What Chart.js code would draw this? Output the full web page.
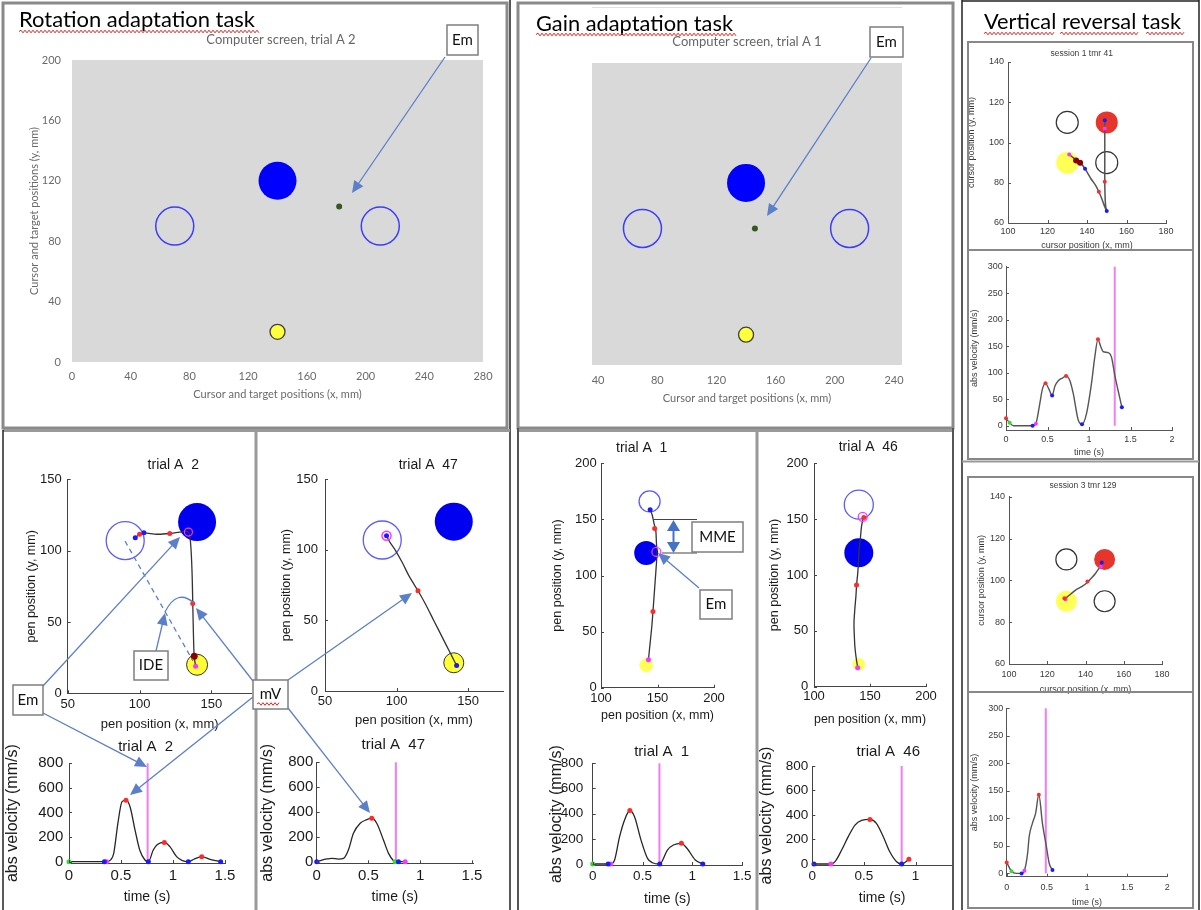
<!DOCTYPE html>
<html>
<head>
<meta charset="utf-8">
<script src="https://cdn.jsdelivr.net/npm/chart.js@4.4.1/dist/chart.umd.min.js"></script>
<style>
  html, body { margin: 0; padding: 0; background: #fff; }
  #page { position: relative; width: 1201px; height: 910px; overflow: hidden; background: #fff; }
  #page canvas { position: absolute; z-index: 1; }
  #overlay { position: absolute; left: 0; top: 0; z-index: 2; pointer-events: none; }
</style>
</head>
<body>
<div id="page"><svg id="overlay" width="1201" height="910" xmlns="http://www.w3.org/2000/svg"></svg></div>
<script>
// ---------- tick values ----------
const screenXTicksRot = [0, 40, 80, 120, 160, 200, 240, 280];
const screenXTicksGain = [40, 80, 120, 160, 200, 240];
const screenYTicks = [0, 40, 80, 120, 160, 200];
const penXTicksRot = [50, 100, 150];
const penYTicksRot = [0, 50, 100, 150];
const penXTicksGain = [100, 150, 200];
const penYTicksGain = [0, 50, 100, 150, 200];
const cursorXTicks = [100, 120, 140, 160, 180];
const cursorYTicks = [60, 80, 100, 120, 140];
const speedTicks = [0, 200, 400, 600, 800];
const timeTicks = [0, 0.5, 1, 1.5];
const timeTicksShort = [0, 0.5, 1];
const reversalSpeedTicks = [0, 50, 100, 150, 200, 250, 300];
const reversalTimeTicks = [0, 0.5, 1, 1.5, 2];

// ---------- computer screen layouts (mm) ----------
const rotScreenOpenTargets = [[70, 90], [210, 90]];
const rotScreenShownTarget = [[140, 120]];
const rotScreenStart = [[140, 20]];
const rotScreenCursorEnd = [[182, 103]];
const gainScreenOpenTargets = [[70, 90], [210, 90]];
const gainScreenShownTarget = [[140, 120]];
const gainScreenStart = [[140, 20]];
const gainScreenCursorEnd = [[146, 90]];

// ---------- rotation, trial A 2: pen path ----------
const a2PenX = [139, 138, 137.5, 137, 136.5, 135.5, 134, 128, 121, 112, 103, 100, 97];
const a2PenY = [19, 26, 40, 63, 85, 105, 113, 113, 112, 111.5, 112.5, 111.5, 109];
const a2OpenTarget = [[90, 107]];
const a2ShownTarget = [[140, 120]];
const a2Start = [[140, 20]];
const a2PenRed = [[137, 63], [121, 112], [100, 111.5]];
const a2PenBlue = [[103, 112.5], [97, 109]];
const a2PenMagenta = [[139, 19]];
const a2PenDarkRed = [[138, 26]];
const a2EndRing = [[134, 113]];
// rotation, trial A 2: speed profile
const a2Time = [0, 0.1, 0.2, 0.34, 0.36, 0.40, 0.43, 0.47, 0.51, 0.548, 0.587, 0.635, 0.68, 0.73, 0.763, 0.81, 0.85, 0.917, 0.97, 1.035, 1.09, 1.147, 1.2, 1.276, 1.356, 1.458];
const a2Speed = [0, 0, 0, 0, 0, 15, 68, 312, 488, 500, 447, 257, 95, 14, 0, 95, 140, 157, 122, 41, 8, 0, 20, 41, 19, 0];
const a2SpeedRed = [[0.548, 500], [0.917, 157], [1.276, 41]];
const a2SpeedBlue = [[0.34, 0], [0.763, 0], [1.147, 0], [1.458, 0]];
const a2SpeedMagenta = [[0.36, 0]];
const a2SpeedGreen = [[0, 0]];
const a2MoveEnd = 0.756;

// ---------- rotation, trial A 47 ----------
const a47PenX = [142, 140, 138, 132, 126, 120, 115, 109, 104, 99, 95, 93];
const a47PenY = [18, 22, 26, 38, 50, 62, 71, 81, 91, 100, 106, 110];
const a47OpenTarget = [[90, 107]];
const a47ShownTarget = [[140, 120]];
const a47Start = [[140, 20]];
const a47PenRed = [[115, 71]];
const a47PenBlue = [[142, 18], [93, 110]];
const a47EndRing = [[93, 110]];
const a47Time = [0, 0.05, 0.1, 0.145, 0.21, 0.26, 0.306, 0.355, 0.42, 0.484, 0.532, 0.58, 0.645, 0.694, 0.742, 0.758, 0.79, 0.855];
const a47Speed = [0, 13, 22, 27, 21, 27, 94, 228, 309, 338, 350, 309, 174, 67, 8, 0, 0, 0];
const a47SpeedRed = [[0.532, 350]];
const a47SpeedBlue = [[0, 0], [0.79, 0]];
const a47SpeedGreen = [[0.758, 0]];
const a47SpeedMagenta = [[0.855, 0]];
const a47MoveEnd = 0.765;

// ---------- gain, trial A 1 ----------
const a1PenX = [142, 143.5, 145, 146, 147, 148, 149, 149.5, 149, 148.5, 147, 146, 145, 143.5];
const a1PenY = [25, 40, 55, 68, 82, 96, 110, 120, 130, 140, 146, 151, 155, 158];
const a1OpenTarget = [[143, 166]];
const a1ShownTarget = [[140, 120]];
const a1Start = [[140, 20]];
const a1PenRed = [[146, 68], [147.5, 142]];
const a1PenBlue = [[143.5, 158.5]];
const a1PenMagenta = [[142, 25]];
const a1EndRing = [[149, 121]];
const a1Time = [0, 0.155, 0.18, 0.22, 0.27, 0.32, 0.373, 0.42, 0.485, 0.55, 0.6, 0.673, 0.75, 0.81, 0.89, 0.946, 1.03, 1.105];
const a1Speed = [0, 0, 0, 32, 217, 350, 425, 376, 190, 45, 10, 0, 111, 151, 164, 125, 32, 0];
const a1SpeedRed = [[0.373, 425], [0.89, 164]];
const a1SpeedBlue = [[0.155, 0], [0.673, 0], [1.105, 0]];
const a1SpeedMagenta = [[0.18, 0]];
const a1SpeedGreen = [[0, 0]];
const a1MoveEnd = 0.67;

// ---------- gain, trial A 46 ----------
const a46PenX = [139, 137.5, 136.5, 136, 135.7, 136.5, 137.5, 138, 139, 139.6, 140.5, 141.5, 142.5, 144];
const a46PenY = [17, 27, 36, 46, 57, 70, 82, 91, 101, 110, 125, 134, 144, 151.6];
const a46OpenTarget = [[140, 163]];
const a46ShownTarget = [[140, 120]];
const a46Start = [[140, 20]];
const a46PenRed = [[138, 91], [144.5, 151.5]];
const a46PenMagenta = [[139, 17]];
const a46EndRing = [[143.5, 152]];
const a46Time = [0.016, 0.1, 0.18, 0.22, 0.284, 0.348, 0.413, 0.477, 0.558, 0.62, 0.687, 0.75, 0.816, 0.865, 0.935];
const a46Speed = [0, 0, 0, 19, 114, 223, 318, 356, 364, 332, 223, 100, 19, 0, 38];
const a46SpeedRed = [[0.558, 364], [0.935, 38]];
const a46SpeedBlue = [[0.016, 0], [0.865, 0]];
const a46SpeedMagenta = [[0.18, 0]];
const a46MoveEnd = 0.865;

// ---------- vertical reversal, session 1 tmr 41 ----------
const s1CursorX = [131, 133, 135, 137, 139, 142, 144.5, 146, 147.5, 148.6, 150, 149.5, 149.2, 149, 149, 149, 149, 149, 149];
const s1CursorY = [94, 92.5, 91, 89.5, 87, 82, 78.5, 75.5, 72, 69, 66, 68, 72, 80, 88, 95, 101, 107, 111];
const s1OpenTargets = [[130, 110], [150, 90]];
const s1GoalTarget = [[150, 110]];
const s1Start = [[130, 90]];
const s1CursorRed = [[146, 75.5], [149, 80.5]];
const s1CursorBlue = [[139, 87], [150, 66], [149, 111]];
const s1CursorMagenta = [[131, 94], [149, 107]];
const s1CursorDarkRed = [[134.5, 91], [136.5, 90]];
const s1Time = [0, 0.044, 0.09, 0.2, 0.32, 0.36, 0.40, 0.44, 0.476, 0.52, 0.556, 0.59, 0.63, 0.68, 0.724, 0.77, 0.81, 0.87, 0.916, 0.97, 1.03, 1.07, 1.108, 1.14, 1.17, 1.23, 1.27, 1.31, 1.35, 1.396];
const s1Speed = [14, 5.7, 0, 0, 0, 4, 35, 70, 80, 68, 57, 75, 85, 90, 94, 85, 61, 11, 3, 23, 80, 130, 163, 150, 140, 138, 130, 96, 67, 35];
const s1SpeedRed = [[0, 14], [0.476, 80], [0.724, 94], [1.108, 163]];
const s1SpeedBlue = [[0.32, 0], [0.556, 57], [0.916, 3], [1.396, 35]];
const s1SpeedGreen = [[0.044, 5.7]];
const s1SpeedMagenta = [[0.36, 4]];
const s1MoveEnd = 1.31;

// ---------- vertical reversal, session 3 tmr 129 ----------
const s3CursorX = [129, 131, 133, 135, 138, 141, 143, 145, 146.5, 148, 148.5];
const s3CursorY = [91, 92.5, 94, 95.5, 97, 99, 101, 103, 105, 107, 108.5];
const s3OpenTargets = [[130, 110], [150, 90]];
const s3GoalTarget = [[150, 110]];
const s3Start = [[130, 90]];
const s3CursorRed = [[129, 91.5], [141, 99.5]];
const s3CursorBlue = [[148.5, 108.5]];
const s3CursorMagenta = [[129.5, 91], [148, 106.5]];
const s3Time = [0, 0.06, 0.12, 0.185, 0.22, 0.26, 0.28, 0.32, 0.36, 0.40, 0.445, 0.495, 0.53, 0.57];
const s3Speed = [20, 4, 0, 0, 5, 36, 67, 91, 109, 143, 91, 48, 18, 6];
const s3SpeedRed = [[0, 20], [0.40, 143]];
const s3SpeedBlue = [[0.185, 0], [0.57, 6]];
const s3SpeedGreen = [[0.06, 4]];
const s3SpeedMagenta = [[0.22, 5]];
const s3MoveEnd = 0.487;

// ---------- helpers ----------
const OFFICE = 'Lato, "Open Sans", sans-serif';
const MATLAB = '"Liberation Sans", Arial, sans-serif';
const RED = '#ff2a2a', BLUE = '#1a1aff', MAGENTA = '#ff33ff', GREEN = '#33dd33', DARKRED = '#8b0000';
const pairs = a => a.map(([x, y]) => ({ x, y }));
const zip = (xs, ys) => xs.map((x, i) => ({ x, y: ys[i] }));

function dots(a, color, r) {
  return { data: pairs(a), showLine: false, pointRadius: r, pointBackgroundColor: color,
           pointBorderColor: color, pointBorderWidth: 0, order: 0, clip: false };
}
function disc(a, fill, r, stroke, sw) {
  return { data: pairs(a), showLine: false, pointRadius: r, pointBackgroundColor: fill,
           pointBorderColor: stroke || fill, pointBorderWidth: sw || 0, order: 3, clip: false };
}
function ring(a, color, r, sw, order) {
  const d = disc(a, 'rgba(0,0,0,0)', r, color, sw);
  if (order !== undefined) d.order = order;
  return d;
}
function trace(data, color, w, extra) {
  return Object.assign({ data, showLine: true, borderColor: color, borderWidth: w, pointRadius: 0,
                         fill: false, tension: 0.3, order: 1, clip: false }, extra || {});
}
function marker(t, top) {
  return trace([{ x: t, y: 0 }, { x: t, y: top }], '#f27cf2', 2, { tension: 0, order: 2 });
}

const page = document.getElementById('page');

function makeChart(spec) {
  const L = Math.floor(spec.box.L), T = Math.floor(spec.box.T);
  const R = Math.ceil(spec.box.R), B = Math.ceil(spec.box.B);
  const p = spec.plot;
  const cv = document.createElement('canvas');
  cv.width = R - L; cv.height = B - T;
  cv.style.left = L + 'px'; cv.style.top = T + 'px';
  cv.style.width = (R - L) + 'px'; cv.style.height = (B - T) + 'px';
  page.appendChild(cv);

  const axis = (key, a) => ({
    type: 'linear', display: a.display !== false, min: a.min, max: a.max, bounds: 'data',
    afterBuildTicks: s => { s.ticks = a.ticks.map(v => ({ value: v })); },
    afterFit: s => { if (key === 'x') s.height = B - p.b; else s.width = p.l - L; },
    grid: { display: true, drawOnChartArea: false, drawTicks: false },
    border: { display: !!spec.axisLine, color: spec.axisColor || '#333', width: 1 },
    ticks: { padding: a.pad, color: spec.tickColor, autoSkip: false, maxRotation: 0, minRotation: 0,
             font: { family: spec.family, size: spec.tickSize }, callback: v => String(v) },
    title: { display: !!a.title, text: a.title || '', color: spec.labelColor, padding: 0,
             font: { family: spec.family, size: key === 'x' ? spec.xLabelSize : spec.yLabelSize } }
  });

  const decor = {
    id: 'decor',
    beforeDraw(chart) {
      if (!spec.plotBg) return;
      const a = chart.chartArea, ctx = chart.ctx;
      ctx.save(); ctx.fillStyle = spec.plotBg;
      ctx.fillRect(a.left, a.top, a.right - a.left, a.bottom - a.top); ctx.restore();
    },
    afterDraw(chart) {
      const ctx = chart.ctx, a = chart.chartArea;
      if (spec.inwardTicks) {
        ctx.save(); ctx.strokeStyle = spec.axisColor || '#333'; ctx.lineWidth = 1;
        const xs = chart.scales.x, ys = chart.scales.y;
        spec.x.ticks.forEach(v => { const px = Math.round(xs.getPixelForValue(v)) + 0.5;
          ctx.beginPath(); ctx.moveTo(px, a.bottom); ctx.lineTo(px, a.bottom - 3); ctx.stroke(); });
        spec.y.ticks.forEach(v => { const py = Math.round(ys.getPixelForValue(v)) + 0.5;
          ctx.beginPath(); ctx.moveTo(a.left, py); ctx.lineTo(a.left + 3, py); ctx.stroke(); });
        ctx.restore();
      }
      if (spec.title) {
        ctx.save(); ctx.fillStyle = spec.title.color || spec.labelColor;
        ctx.font = spec.title.size + 'px ' + spec.family;
        ctx.textAlign = 'center'; ctx.textBaseline = 'middle';
        ctx.fillText(spec.title.text, spec.title.x - L, spec.title.y - T);
        ctx.restore();
      }
    }
  };

  return new Chart(cv, {
    type: 'scatter',
    data: { datasets: spec.datasets },
    options: {
      responsive: false, animation: false, devicePixelRatio: 1, events: [],
      layout: { autoPadding: false, padding: { left: 0, top: p.t - T, right: R - p.r, bottom: 0 } },
      plugins: { legend: { display: false }, tooltip: { enabled: false }, title: { display: false } },
      scales: { x: axis('x', spec.x), y: axis('y', spec.y) }
    },
    plugins: [decor]
  });
}

// ---------- chart styles ----------
const excelStyle = { family: OFFICE, tickSize: 11, xLabelSize: 11, yLabelSize: 11,
  tickColor: '#6a6a6a', labelColor: '#6a6a6a', plotBg: '#d9d9d9', axisLine: false };
const penStyle = { family: MATLAB, tickSize: 13, xLabelSize: 13, yLabelSize: 12.5,
  tickColor: '#1a1a1a', labelColor: '#1a1a1a', axisLine: true, axisColor: '#444', inwardTicks: true };
const speedStyle = { family: MATLAB, tickSize: 15, xLabelSize: 14, yLabelSize: 16,
  tickColor: '#1a1a1a', labelColor: '#1a1a1a', axisLine: true, axisColor: '#444', inwardTicks: true };
const speedStyleGain = Object.assign({}, speedStyle, { tickSize: 13.5 });
const smallStyle = { family: MATLAB, tickSize: 9, xLabelSize: 9, yLabelSize: 9,
  tickColor: '#3a3a3a', labelColor: '#3a3a3a', axisLine: true, axisColor: '#555', inwardTicks: true };

// ---------- computer screen: rotation ----------
makeChart(Object.assign({}, excelStyle, {
  plot: { l: 72, t: 60, r: 485, b: 362 }, box: { L: 28, T: 28, R: 500, B: 401 },
  x: { min: 0, max: 280, ticks: screenXTicksRot, pad: 7.4, title: 'Cursor and target positions (x, mm)' },
  y: { min: 0, max: 200, ticks: screenYTicks, pad: 11, title: 'Cursor and target positions (y, mm)' },
  title: { text: 'Computer screen, trial A 2', x: 281, y: 40, size: 13, color: '#666' },
  datasets: [
    dots(rotScreenCursorEnd, '#375623', 3),
    ring(rotScreenOpenTargets, '#3c3cff', 19, 1.5),
    disc(rotScreenShownTarget, '#0000ff', 19),
    disc(rotScreenStart, '#ffff3c', 7.5, '#404040', 1.3)
  ]
}));

// ---------- computer screen: gain ----------
makeChart(Object.assign({}, excelStyle, {
  plot: { l: 592, t: 63, r: 902, b: 365 }, box: { L: 580, T: 30, R: 945, B: 405 },
  x: { min: 35.9, max: 245.4, ticks: screenXTicksGain, pad: 8.4, title: 'Cursor and target positions (x, mm)' },
  y: { min: 0, max: 199, ticks: screenYTicks, pad: 8, display: false },
  title: { text: 'Computer screen, trial A 1', x: 747, y: 42, size: 13, color: '#666' },
  datasets: [
    dots(gainScreenCursorEnd, '#375623', 3),
    ring(gainScreenOpenTargets, '#3c3cff', 19, 1.5),
    disc(gainScreenShownTarget, '#0000ff', 19),
    disc(gainScreenStart, '#ffff3c', 7.5, '#404040', 1.3)
  ]
}));

// ---------- rotation, trial A 2 ----------
makeChart(Object.assign({}, penStyle, {
  plot: { l: 67.7, t: 479.3, r: 251.7, b: 693.3 }, box: { L: 24.2, T: 452, R: 255, B: 731.1 },
  x: { min: 50, max: 178, ticks: penXTicksRot, pad: 2.9, title: 'pen position (x, mm)' },
  y: { min: 0, max: 150, ticks: penYTicksRot, pad: 6, title: 'pen position (y, mm)' },
  title: { text: 'trial A  2', x: 173.3, y: 465, size: 14 },
  datasets: [
    dots(a2PenRed, RED, 2.5), dots(a2PenBlue, BLUE, 2.5), dots(a2PenMagenta, MAGENTA, 2.5),
    dots(a2PenDarkRed, DARKRED, 3.5), ring(a2EndRing, MAGENTA, 4, 1.2, 0),
    trace(zip(a2PenX, a2PenY), '#333', 1.3),
    ring(a2OpenTarget, '#5c5cff', 19, 1.3),
    disc(a2ShownTarget, '#0000f0', 19),
    disc(a2Start, '#ffff33', 10.5, '#333', 1)
  ]
}));
makeChart(Object.assign({}, speedStyle, {
  plot: { l: 69, t: 763.3, r: 225, b: 863 }, box: { L: 3.7, T: 733, R: 252, B: 905.1 },
  x: { min: 0, max: 1.5, ticks: timeTicks, pad: 4, title: 'time (s)' },
  y: { min: -10.6, max: 800, ticks: speedTicks, pad: 5.7, title: 'abs velocity (mm/s)' },
  title: { text: 'trial A  2', x: 145.7, y: 746.7, size: 15 },
  datasets: [
    dots(a2SpeedRed, RED, 2.5), dots(a2SpeedBlue, BLUE, 2.5),
    dots(a2SpeedMagenta, MAGENTA, 2.5), dots(a2SpeedGreen, GREEN, 2.5),
    trace(zip(a2Time, a2Speed), '#262626', 1.3, { cubicInterpolationMode: 'monotone' }),
    marker(a2MoveEnd, 800)
  ]
}));

// ---------- rotation, trial A 47 ----------
makeChart(Object.assign({}, penStyle, {
  plot: { l: 325, t: 479.3, r: 503, b: 691 }, box: { L: 279.2, T: 452, R: 512, B: 727.8 },
  x: { min: 50, max: 174.4, ticks: penXTicksRot, pad: 2.9, title: 'pen position (x, mm)' },
  y: { min: 0, max: 150, ticks: penYTicksRot, pad: 7, title: 'pen position (y, mm)' },
  title: { text: 'trial A  47', x: 428.3, y: 465, size: 14 },
  datasets: [
    dots(a47PenRed, RED, 2.5), dots(a47PenBlue, BLUE, 2.5), ring(a47EndRing, MAGENTA, 4.5, 1.5, 0),
    trace(zip(a47PenX, a47PenY), '#333', 1.3),
    ring(a47OpenTarget, '#5c5cff', 19, 1.3),
    disc(a47ShownTarget, '#0000f0', 19),
    disc(a47Start, '#ffff33', 10, '#333', 1)
  ]
}));
makeChart(Object.assign({}, speedStyle, {
  plot: { l: 316.7, t: 762.3, r: 473, b: 863.3 }, box: { L: 258.1, T: 732, R: 512, B: 905.1 },
  x: { min: 0, max: 1.51, ticks: timeTicks, pad: 4, title: 'time (s)' },
  y: { min: -13, max: 800, ticks: speedTicks, pad: 3.4, title: 'abs velocity (mm/s)' },
  title: { text: 'trial A  47', x: 393.3, y: 745, size: 15 },
  datasets: [
    dots(a47SpeedRed, RED, 2.5), dots(a47SpeedBlue, BLUE, 2.5),
    dots(a47SpeedGreen, GREEN, 2.5), dots(a47SpeedMagenta, MAGENTA, 2.5),
    trace(zip(a47Time, a47Speed), '#262626', 1.3, { cubicInterpolationMode: 'monotone' }),
    marker(a47MoveEnd, 800)
  ]
}));

// ---------- gain, trial A 1 ----------
makeChart(Object.assign({}, penStyle, {
  plot: { l: 601, t: 463.3, r: 714, b: 687.7 }, box: { L: 550.8, T: 436, R: 752, B: 722.8 },
  x: { min: 100, max: 200, ticks: penXTicksGain, pad: 2.8, title: 'pen position (x, mm)' },
  y: { min: 0, max: 200, ticks: penYTicksGain, pad: 4.3, title: 'pen position (y, mm)' },
  title: { text: 'trial A  1', x: 641.7, y: 448.3, size: 14 },
  datasets: [
    dots(a1PenRed, RED, 2.5), dots(a1PenBlue, BLUE, 2.5), dots(a1PenMagenta, MAGENTA, 2.5),
    ring(a1EndRing, MAGENTA, 4.5, 1.3, 0),
    trace(zip(a1PenX, a1PenY), '#333', 1.3),
    ring(a1OpenTarget, '#5c5cff', 10.5, 1.3),
    disc(a1ShownTarget, '#0000f0', 12),
    disc(a1Start, '#ffff55', 6.7)
  ]
}));
makeChart(Object.assign({}, speedStyleGain, {
  plot: { l: 592.7, t: 763.3, r: 744.3, b: 865 }, box: { L: 547.7, T: 736, R: 755, B: 907.7 },
  x: { min: 0, max: 1.5, ticks: timeTicks, pad: 3.5, title: 'time (s)' },
  y: { min: -8, max: 800, ticks: speedTicks, pad: 9.4, title: 'abs velocity (mm/s)' },
  title: { text: 'trial A  1', x: 661.7, y: 752.3, size: 15 },
  datasets: [
    dots(a1SpeedRed, RED, 2.5), dots(a1SpeedBlue, BLUE, 2.5),
    dots(a1SpeedMagenta, MAGENTA, 2.5), dots(a1SpeedGreen, GREEN, 2.5),
    trace(zip(a1Time, a1Speed), '#262626', 1.3, { cubicInterpolationMode: 'monotone' }),
    marker(a1MoveEnd, 800)
  ]
}));

// ---------- gain, trial A 46 ----------
makeChart(Object.assign({}, penStyle, {
  plot: { l: 814, t: 463.3, r: 926, b: 686.7 }, box: { L: 767.5, T: 434, R: 952, B: 726.1 },
  x: { min: 100, max: 200, ticks: penXTicksGain, pad: 2.2, title: 'pen position (x, mm)' },
  y: { min: 0, max: 200, ticks: penYTicksGain, pad: 5.7, title: 'pen position (y, mm)' },
  title: { text: 'trial A  46', x: 868.3, y: 446.7, size: 14 },
  datasets: [
    dots(a46PenRed, RED, 2.5), dots(a46PenMagenta, MAGENTA, 2.5),
    ring(a46EndRing, MAGENTA, 4.5, 1.3, 0),
    trace(zip(a46PenX, a46PenY), '#333', 1.3),
    ring(a46OpenTarget, '#5c5cff', 14.5, 1.3),
    disc(a46ShownTarget, '#0000f0', 14.5),
    disc(a46Start, '#ffff55', 6.3)
  ]
}));
makeChart(Object.assign({}, speedStyleGain, {
  plot: { l: 812.3, t: 766, r: 952, b: 865 }, box: { L: 757.1, T: 736, R: 955, B: 906.7 },
  x: { min: 0, max: 1.352, ticks: timeTicksShort, pad: 3.5, title: 'time (s)' },
  y: { min: -8.2, max: 800, ticks: speedTicks, pad: 4, title: 'abs velocity (mm/s)' },
  title: { text: 'trial A  46', x: 888.3, y: 751.7, size: 15 },
  datasets: [
    dots(a46SpeedRed, RED, 2.5), dots(a46SpeedBlue, BLUE, 2.5), dots(a46SpeedMagenta, MAGENTA, 2.5),
    trace(zip(a46Time, a46Speed), '#262626', 1.3, { cubicInterpolationMode: 'monotone' }),
    marker(a46MoveEnd, 800)
  ]
}));

// ---------- vertical reversal, session 1 ----------
makeChart(Object.assign({}, smallStyle, {
  plot: { l: 1008, t: 62, r: 1166, b: 223 }, box: { L: 966.3, T: 45, R: 1190, B: 250.4 },
  x: { min: 100, max: 180, ticks: cursorXTicks, pad: 3.3, title: 'cursor position (x, mm)' },
  y: { min: 60, max: 140, ticks: cursorYTicks, pad: 4, title: 'cursor position (y, mm)' },
  title: { text: 'session 1 tmr 41', x: 1081.7, y: 53.3, size: 8.5 },
  datasets: [
    dots(s1CursorRed, RED, 2), dots(s1CursorBlue, BLUE, 2), dots(s1CursorMagenta, MAGENTA, 2),
    dots(s1CursorDarkRed, DARKRED, 3),
    trace(zip(s1CursorX, s1CursorY), '#555', 1.5, { tension: 0.2 }),
    ring(s1OpenTargets, '#333', 11, 1.2),
    disc(s1GoalTarget, '#e8352b', 11),
    disc(s1Start, '#ffff55', 11)
  ]
}));
makeChart(Object.assign({}, smallStyle, {
  plot: { l: 1006, t: 266.7, r: 1172, b: 430 }, box: { L: 969.6, T: 255, R: 1190, B: 457.1 },
  x: { min: 0, max: 2, ticks: reversalTimeTicks, pad: 3.9, title: 'time (s)' },
  y: { min: -8, max: 300, ticks: reversalSpeedTicks, pad: 3.3, title: 'abs velocity (mm/s)' },
  datasets: [
    dots(s1SpeedRed, RED, 2), dots(s1SpeedBlue, BLUE, 2),
    dots(s1SpeedGreen, GREEN, 2), dots(s1SpeedMagenta, MAGENTA, 2),
    trace(zip(s1Time, s1Speed), '#555', 1.4, { cubicInterpolationMode: 'monotone' }),
    marker(s1MoveEnd, 300)
  ]
}));

// ---------- vertical reversal, session 3 ----------
makeChart(Object.assign({}, smallStyle, {
  plot: { l: 1009, t: 496.7, r: 1162, b: 664 }, box: { L: 976.3, T: 478, R: 1190, B: 694.4 },
  x: { min: 100, max: 180, ticks: cursorXTicks, pad: 5.6, title: 'cursor position (x, mm)' },
  y: { min: 60, max: 140, ticks: cursorYTicks, pad: 4, title: 'cursor position (y, mm)' },
  title: { text: 'session 3 tmr 129', x: 1083, y: 486, size: 8.5 },
  datasets: [
    dots(s3CursorRed, RED, 2), dots(s3CursorBlue, BLUE, 2), dots(s3CursorMagenta, MAGENTA, 2),
    trace(zip(s3CursorX, s3CursorY), '#555', 1.5, { tension: 0.2 }),
    ring(s3OpenTargets, '#333', 10.5, 1.2),
    disc(s3GoalTarget, '#e8352b', 10.5),
    disc(s3Start, '#ffff55', 10.5)
  ]
}));
makeChart(Object.assign({}, smallStyle, {
  plot: { l: 1006.7, t: 708.3, r: 1167.3, b: 876.7 }, box: { L: 969.6, T: 698, R: 1190, B: 907.1 },
  x: { min: 0, max: 2, ticks: reversalTimeTicks, pad: 5.6, title: 'time (s)' },
  y: { min: -6, max: 300, ticks: reversalSpeedTicks, pad: 3.4, title: 'abs velocity (mm/s)' },
  datasets: [
    dots(s3SpeedRed, RED, 2), dots(s3SpeedBlue, BLUE, 2),
    dots(s3SpeedGreen, GREEN, 2), dots(s3SpeedMagenta, MAGENTA, 2),
    trace(zip(s3Time, s3Speed), '#555', 1.4, { cubicInterpolationMode: 'monotone' }),
    marker(s3MoveEnd, 300)
  ]
}));

// ---------- panel frames, headings and callouts ----------
const svg = document.getElementById('overlay');
const NS = 'http://www.w3.org/2000/svg';
function el(tag, attrs, text) {
  const e = document.createElementNS(NS, tag);
  for (const k in attrs) e.setAttribute(k, attrs[k]);
  if (text !== undefined) e.textContent = text;
  svg.appendChild(e);
  return e;
}
const line = (x1, y1, x2, y2, stroke, w, extra) =>
  el('line', Object.assign({ x1, y1, x2, y2, stroke, 'stroke-width': w }, extra || {}));
const frame = (x1, y1, x2, y2, stroke, w) =>
  el('rect', { x: x1, y: y1, width: x2 - x1, height: y2 - y1, fill: 'none', stroke, 'stroke-width': w });

// frames
frame(3, 3, 507, 428, '#8a8a8a', 3);
frame(518, 3, 953, 428, '#8a8a8a', 3);
line(592, 7.5, 902, 7.5, '#e0e0e0', 1);
line(510, 0, 510, 910, '#222', 1.5);
line(3, 430.5, 510, 430.5, '#999', 3);
line(3, 430, 3, 910, '#222', 1.5);
line(256, 430, 256, 910, '#999', 3);
line(518, 430.5, 953, 430.5, '#999', 3);
line(518, 428, 518, 910, '#555', 2);
line(757, 430, 757, 910, '#999', 3);
line(953, 428, 953, 910, '#555', 2);
line(962, 0, 962, 910, '#222', 1.5);
line(962, 1, 1199, 1, '#222', 1.5);
line(1199, 0, 1199, 910, '#222', 1.5);
frame(968, 42, 1193, 459, '#888', 2);
line(968, 250, 1193, 250, '#888', 2);
line(962, 461.5, 1199, 461.5, '#999', 2);
frame(968, 477, 1193, 908, '#888', 2);
line(968, 692, 1193, 692, '#888', 2);

// headings with spell-check squiggles
function squiggle(x1, x2, y) {
  let d = 'M' + x1 + ',' + y, up = true;
  for (let x = x1 + 2; x <= x2; x += 2) { d += ' L' + x + ',' + (y + (up ? -1.3 : 1.3)); up = !up; }
  el('path', { d, fill: 'none', stroke: '#e8201c', 'stroke-width': 1 });
}
function heading(text, x, y, len) {
  el('text', { x, y, 'font-family': OFFICE, 'font-size': 21, fill: '#000', textLength: len,
               lengthAdjust: 'spacingAndGlyphs' }, text);
}
heading('Rotation adaptation task', 19, 27, 236);
squiggle(19, 259, 31.5);
heading('Gain adaptation task', 536, 31, 197);
squiggle(536, 737, 34.5);
heading('Vertical reversal task', 984, 29, 197);
squiggle(984, 1055, 33.5); squiggle(1060, 1138, 33.5); squiggle(1146, 1185, 33.5);

// callout boxes
function note(x1, y1, x2, y2, text, size) {
  el('rect', { x: x1, y: y1, width: x2 - x1, height: y2 - y1, fill: '#fff', stroke: '#7f7f7f', 'stroke-width': 1.5 });
  el('text', { x: (x1 + x2) / 2, y: (y1 + y2) / 2 + 1, 'font-family': OFFICE, 'font-size': size || 15,
               fill: '#111', 'text-anchor': 'middle', 'dominant-baseline': 'middle' }, text);
}
const ARROW = '#5b7fc9';
function head(x1, y1, x2, y2, len, half, color) {
  const a = Math.atan2(y2 - y1, x2 - x1), c = Math.cos(a), s = Math.sin(a);
  const bx = x2 - len * c, by = y2 - len * s;
  el('polygon', { points: [x2, y2, bx - half * s, by + half * c, bx + half * s, by - half * c].join(','), fill: color });
  return [bx, by];
}
function arrow(x1, y1, x2, y2) {
  const a = Math.atan2(y2 - y1, x2 - x1);
  line(x1, y1, x2 - 10 * Math.cos(a), y2 - 10 * Math.sin(a), ARROW, 1.3);
  head(x1, y1, x2, y2, 12, 5.5, ARROW);
}

// initial direction: straight start-to-target line and the angle arc
line(125, 541, 193, 661, ARROW, 1.3, { 'stroke-dasharray': '5,4' });
el('path', { d: 'M165,612 Q177,588 194,603', fill: 'none', stroke: ARROW, 'stroke-width': 1.3 });

// movement-magnitude error bracket
line(654, 519.5, 697, 519.5, '#444', 1);
line(662, 553, 697, 553, '#444', 1);
line(673.5, 530, 673.5, 543, '#4472c4', 2);
head(673.5, 553, 673.5, 520, 11, 6.5, '#4472c4');
head(673.5, 520, 673.5, 553, 11, 6.5, '#4472c4');

// arrows
arrow(445, 57, 352, 193);
arrow(871, 58, 767, 216);
arrow(43, 686, 180, 537);
arrow(43, 713, 147, 767);
arrow(156, 651, 165, 613);
arrow(253, 681, 196, 608);
arrow(253, 697, 130, 795);
arrow(288, 680, 412, 593);
arrow(288, 708, 370, 813);
arrow(699, 588, 658, 553);

note(447, 25, 478, 55, 'Em');
note(870, 27, 903, 57, 'Em');
note(13, 685, 43, 715, 'Em');
note(134, 651, 168, 680, 'IDE');
note(253, 680, 288, 709, 'mV');
squiggle(257, 280, 704);
note(692, 522, 743, 552, 'MME');
note(700, 590, 732, 619, 'Em');
</script>
</body>
</html>
